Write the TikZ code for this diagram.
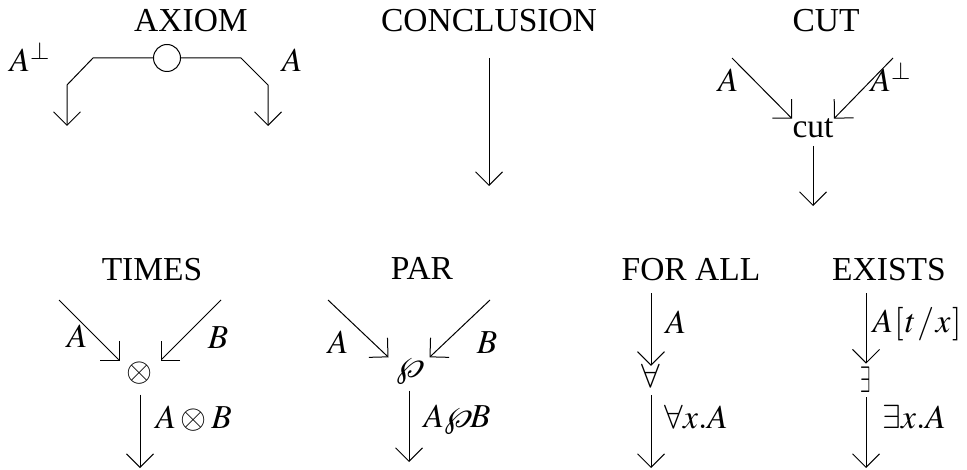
\documentclass[tikz,border=0pt]{standalone}
\usepackage{mathptmx}
\usepackage{fontspec}
\setmainfont{Liberation Serif}
\usepackage{graphicx}
\usetikzlibrary{arrows.meta}
\begin{document}
\begin{tikzpicture}[x=0.5pt,y=-0.5pt,line width=0.5pt,
  every node/.style={font=\fontsize{16.75}{20}\selectfont,inner sep=0pt},
  arr/.style={-{Straight Barb[length=6.75pt,width=13.5pt]}},
  title/.style={anchor=base},
  lbl/.style={anchor=base},
  lbll/.style={anchor=base west},
  opbox/.style={minimum width=20pt}]
\useasboundingbox (0,0) rectangle (967,470);

% ---------------- AXIOM
\node[title] (tAx) at (191,32) {AXIOM};
\node[circle,draw,minimum size=13.5pt] (ax) at (167,58) {};
\coordinate (axl1) at (93,58);
\coordinate (axl2) at (67,85);
\coordinate (axl3) at (67,126);
\coordinate (axr1) at (241,58);
\coordinate (axr2) at (268,85);
\coordinate (axr3) at (268,126);
\draw[arr] (ax.west) -- (axl1) -- (axl2) -- (axl3);
\draw[arr] (ax.east) -- (axr1) -- (axr2) -- (axr3);
\node[lbl] (axlabL) at (30,72) {$A^\perp$};
\node[lbl] (axlabR) at (292,72) {$A$};

% ---------------- CONCLUSION
\node[title] (tCo) at (489,32) {CONCLUSION};
\coordinate (co1) at (489,58);
\coordinate (co2) at (489,186);
\draw[arr] (co1) -- (co2);

% ---------------- CUT
\node[title] (tCut) at (826,32) {CUT};
\node[anchor=base] (cut) at (813,138) {cut};
\coordinate (cutA) at (732,58);
\coordinate (cutB) at (893,58);
\coordinate (cutO) at (813,206);
\draw[arr] (cutA) -- (cut.north west);
\draw[arr] (cutB) -- (cut.north east);
\draw[arr] ([yshift=-3.5pt]cut.south) -- (cutO);
\node[lbl] (cutlabA) at (728,92) {$A$};
\node[lbl] (cutlabB) at (891,92) {$A^\perp$};

% ---------------- TIMES
\node[title] (tTi) at (152,280) {TIMES};
\node[opbox,minimum height=12pt] (ot) at (140,373) {$\otimes$};
\coordinate (tiA) at (59,300);
\coordinate (tiB) at (221,300);
\coordinate (tiO) at (140,468);
\draw[arr] (tiA) -- (ot.north west);
\draw[arr] (tiB) -- (ot.north east);
\draw[arr] ([yshift=-4.5pt]ot.south) -- (tiO);
\node[lbl] (tilabA) at (77,347) {$A$};
\node[lbl] (tilabB) at (218,348) {$B$};
\node[lbll] (tilabO) at (155,428) {$A\otimes B$};

% ---------------- PAR
\node[title] (tPa) at (422,279) {PAR};
\node[opbox,minimum height=10pt] (op) at (409,371) {$\wp$};
\coordinate (paA) at (328,300);
\coordinate (paB) at (490,300);
\coordinate (paO) at (409,462);
\draw[arr] (paA) -- (op.north west);
\draw[arr] (paB) -- (op.north east);
\draw[arr] ([yshift=-3pt]op.south) -- (paO);
\node[lbl] (palabA) at (338,353) {$A$};
\node[lbl] (palabB) at (487,353) {$B$};
\node[lbll] (palabO) at (423,427) {$A\wp B$};

% ---------------- FOR ALL
\node[title] (tFa) at (691,280) {FOR ALL};
\node (fa) at (651,376) {$\forall$};
\coordinate (faI) at (651,293);
\coordinate (faO) at (651,468);
\draw[arr] (faI) -- ([yshift=-1pt]fa.north);
\draw[arr] ([yshift=-3.5pt]fa.south) -- (faO);
\node[lbll] (falabI) at (665,333) {$A$};
\node[lbll] (falabO) at (664,428) {$\forall x.A$};

% ---------------- EXISTS
\node[title] (tEx) at (889,280) {EXISTS};
\node (ex) at (866,380) {\scalebox{0.55}[1.1]{$\exists$}};
\coordinate (exI) at (866,293);
\coordinate (exO) at (866,468);
\draw[arr] (exI) -- ([yshift=1.5pt]ex.north);
\draw[arr] ([yshift=-2pt]ex.south) -- (exO);
\node[lbll] (exlabI) at (872,332) {$A\mkern0.8mu[\mkern0.8mu t\mkern0.8mu/\mkern0.8mu x\mkern0.8mu]$};
\node[lbll] (exlabO) at (882,428) {$\exists x.A$};
\end{tikzpicture}
\end{document}
